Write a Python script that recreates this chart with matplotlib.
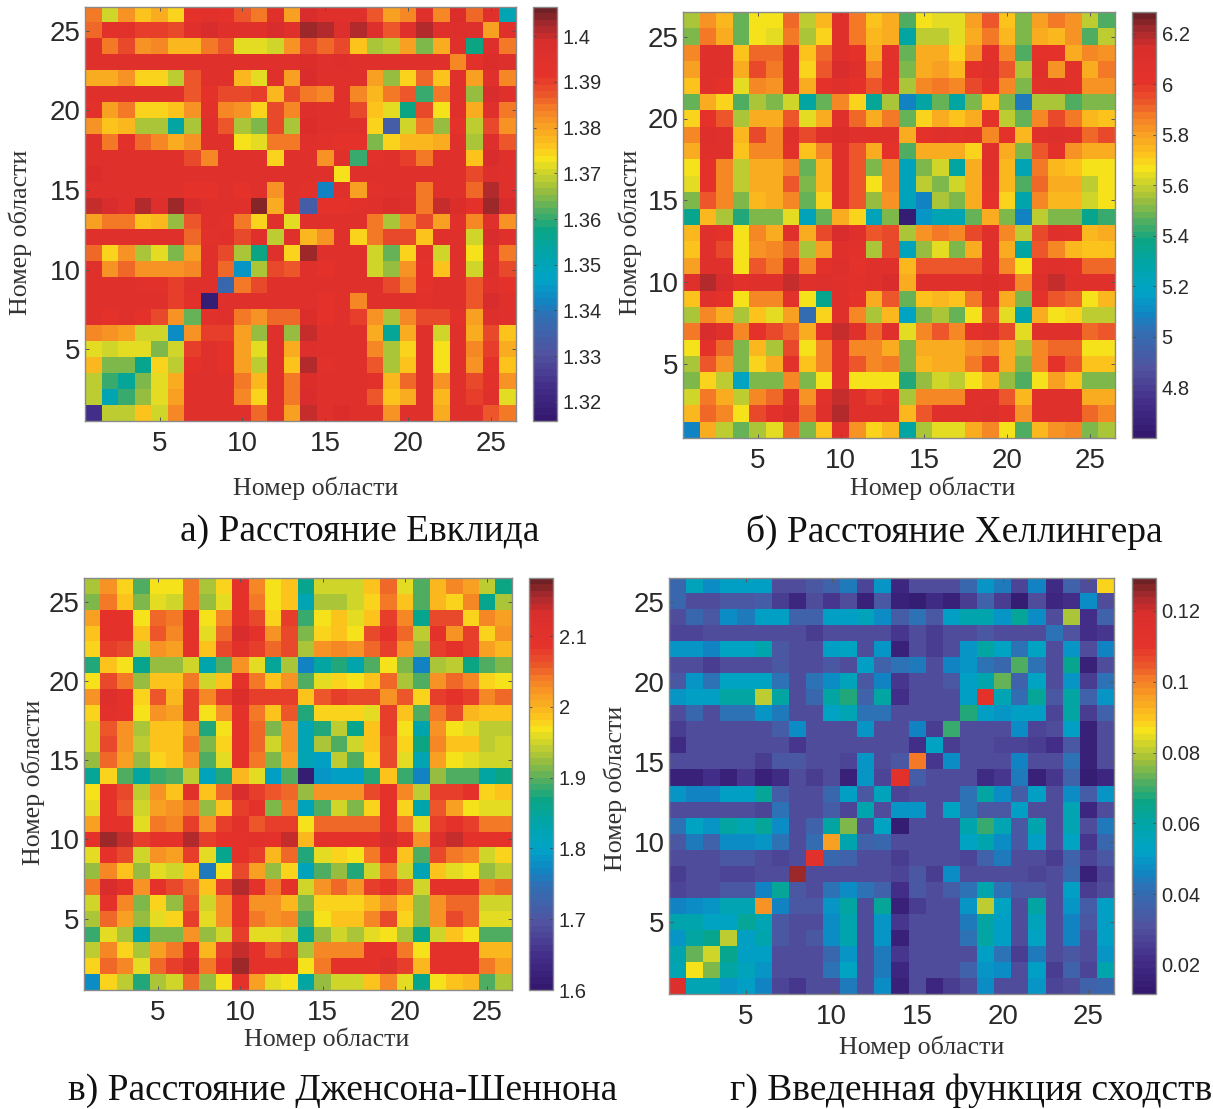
import matplotlib
matplotlib.use("Agg")
import matplotlib.pyplot as plt
import numpy as np
from matplotlib.colors import LinearSegmentedColormap

# Rows run from region 26 (top) down to region 1, columns from 1 to 26.
# Euclid: thousandths above 1.3
euclid_rows = [
    [85,71,81,76,79,75,92,93,91,87,84,94,80,98,94,94,94,87,80,83,94,83,97,86,94,50],
    [86,93,93,90,90,88,95,99,94,94,94,98,94,103,102,96,101,96,87,94,102,94,96,96,80,94],
    [94,85,89,81,83,77,78,85,87,72,72,71,82,89,86,89,76,68,69,80,65,79,94,57,96,85],
    [95,95,95,95,95,94,94,94,94,94,94,94,94,97,94,96,95,94,94,94,94,94,83,93,97,96],
    [79,79,81,75,75,69,87,94,94,77,72,94,80,99,94,94,94,80,66,75,86,76,94,80,94,83],
    [94,94,94,94,94,94,87,91,88,88,90,77,89,84,83,94,83,77,84,87,60,85,94,66,99,94],
    [93,80,85,75,74,76,82,93,83,82,74,88,83,96,94,94,89,76,72,58,88,73,94,79,95,84],
    [81,76,77,68,68,54,67,94,87,67,65,88,68,97,94,94,94,74,33,71,84,66,92,69,89,82],
    [94,85,93,86,83,79,81,94,94,73,72,84,84,94,93,92,92,64,74,78,78,79,94,68,96,87],
    [94,94,94,94,94,94,88,83,94,94,94,74,94,94,82,94,60,93,94,90,84,94,94,76,99,94],
    [97,94,94,94,94,94,94,94,94,94,94,94,94,94,95,73,94,94,94,94,94,94,95,88,96,94],
    [94,94,94,94,94,94,92,92,94,92,94,81,94,93,42,95,80,93,94,94,84,94,94,86,101,94],
    [100,98,95,102,96,103,99,94,94,94,104,79,94,33,92,92,93,94,97,96,85,100,97,91,103,98],
    [80,84,84,76,78,66,87,94,93,85,74,94,72,94,94,94,94,84,67,83,88,80,94,83,94,81],
    [94,94,94,94,94,94,86,93,95,89,94,69,94,78,81,94,75,84,89,89,76,94,94,71,98,94],
    [86,75,81,68,72,65,80,94,89,67,58,94,75,103,94,94,94,71,63,75,93,71,94,73,95,85],
    [94,82,86,81,81,81,83,94,86,45,67,89,87,94,92,94,94,71,66,81,91,76,94,71,96,88],
    [94,94,94,93,93,90,94,94,36,85,89,94,94,94,94,94,94,94,89,84,92,94,94,87,94,92],
    [94,94,94,94,94,90,93,18,94,94,94,94,94,94,92,94,83,94,94,94,93,94,94,87,98,94],
    [94,92,94,91,89,82,63,93,94,84,81,86,86,97,92,94,90,82,67,83,88,88,93,80,96,94],
    [83,81,80,70,71,44,82,90,90,80,66,94,66,100,94,94,94,79,55,79,94,70,94,79,89,76],
    [72,71,72,72,65,70,90,94,92,80,72,94,79,96,94,94,94,83,68,74,94,73,94,83,90,79],
    [77,65,64,56,75,69,92,94,91,80,69,94,76,101,93,94,94,87,67,76,94,73,94,81,92,76],
    [69,60,55,64,72,79,94,94,94,85,78,94,84,97,94,94,94,93,78,86,94,82,94,88,93,81],
    [69,51,60,66,72,80,94,94,94,83,74,94,84,98,94,94,94,87,76,79,94,78,94,90,94,72],
    [24,69,69,76,71,83,94,94,94,94,86,94,80,100,94,97,94,94,82,94,94,79,95,95,87,85],
]
# Hellinger: hundredths
hellinger_rows = [
    [555,582,575,548,568,568,590,558,575,605,588,572,578,545,568,565,563,580,592,572,550,580,588,582,558,545],
    [550,587,577,548,568,565,588,556,570,605,587,574,578,530,560,558,564,578,588,575,550,578,575,583,545,558],
    [585,606,606,572,590,590,605,572,590,606,600,577,604,548,578,578,570,582,603,586,545,600,600,577,585,582],
    [580,606,606,578,596,587,606,570,592,615,605,585,604,550,578,580,575,600,605,592,555,605,582,604,578,588],
    [573,606,600,565,585,582,606,578,600,607,602,592,600,555,584,588,585,595,602,584,552,603,606,604,582,582],
    [548,578,570,545,555,552,562,530,548,585,570,532,555,510,530,548,530,550,572,550,505,556,556,545,550,550],
    [570,602,592,555,576,578,592,565,578,605,590,578,587,548,570,576,572,578,600,560,548,586,596,588,575,572],
    [585,610,607,574,597,584,605,595,605,612,606,606,606,578,600,606,604,605,585,600,574,606,608,606,590,596],
    [578,607,607,572,585,585,604,572,585,606,592,578,600,545,578,578,578,570,606,578,550,594,604,582,578,578],
    [568,600,586,558,578,578,584,548,574,606,594,552,586,522,550,562,530,578,605,575,525,588,574,572,566,566],
    [565,600,586,560,578,578,592,552,575,606,594,566,586,522,558,550,562,578,604,575,545,590,578,578,560,566],
    [552,592,584,550,575,578,585,548,570,606,592,554,582,522,510,556,550,578,600,570,528,585,575,575,562,566],
    [535,575,555,540,550,550,565,522,548,578,570,522,550,465,515,525,525,548,578,550,508,560,550,550,535,542],
    [575,606,600,568,585,577,606,578,595,615,605,592,595,555,583,588,585,597,605,585,560,597,605,603,575,578],
    [572,605,595,567,582,585,590,556,580,605,603,555,595,522,553,565,552,578,606,578,530,594,584,574,572,572],
    [580,606,606,568,592,587,605,585,603,610,600,606,605,575,593,592,593,593,606,585,568,603,606,603,590,590],
    [606,620,615,604,606,606,617,605,608,606,603,606,614,578,606,606,606,606,612,606,585,610,617,606,606,606],
    [572,605,600,567,585,584,603,568,535,606,600,578,592,548,572,574,572,587,605,578,552,600,592,590,568,574],
    [555,586,578,555,572,565,580,500,570,605,584,556,574,520,550,555,548,566,595,565,528,578,568,570,558,558],
    [587,615,606,585,602,597,590,578,604,618,606,590,605,565,584,592,584,602,605,597,565,606,606,606,590,594],
    [566,602,590,552,575,555,596,566,584,606,586,586,578,552,576,578,578,582,584,578,555,584,590,590,568,566],
    [556,592,582,552,570,576,603,572,584,606,593,584,588,552,574,578,578,588,598,578,552,584,600,594,572,572],
    [550,570,560,520,552,552,584,552,568,605,568,568,566,540,553,562,558,568,574,553,545,568,580,572,550,550],
    [562,588,576,558,584,590,605,582,604,616,605,598,602,556,586,586,586,606,606,592,574,606,606,606,578,578],
    [575,590,586,568,595,604,612,590,605,620,606,606,606,574,592,606,606,606,610,604,582,606,606,606,590,584],
    [510,577,560,548,556,563,590,552,572,605,582,570,574,530,556,565,565,578,586,568,545,574,582,584,550,556],
]
# Jensen-Shannon: hundredths
jensen_rows = [
    [193,202,198,190,197,197,204,193,198,209,203,197,199,186,195,195,195,199,205,196,190,200,203,201,194,187],
    [191,204,199,191,196,195,204,192,196,209,204,197,199,182,193,193,195,198,204,199,190,200,198,203,186,193],
    [201,209,209,197,205,204,209,197,203,209,207,198,208,189,197,199,196,199,208,203,186,207,207,198,203,201],
    [199,209,209,199,206,203,209,196,205,213,209,202,207,191,198,199,197,207,209,205,194,209,202,208,198,202],
    [198,208,207,195,202,201,209,199,207,210,208,205,207,193,202,203,202,205,208,202,192,208,209,208,201,200],
    [188,199,197,186,192,192,195,183,190,202,196,185,193,177,184,188,183,190,197,191,177,193,194,187,190,191],
    [197,207,204,192,199,199,204,195,199,209,204,199,202,190,196,198,197,199,205,193,190,202,205,203,198,197],
    [202,211,209,198,206,200,208,203,208,212,208,208,208,199,206,208,207,207,202,206,198,208,209,208,203,205],
    [198,210,209,197,202,201,208,197,202,209,204,199,206,188,198,198,198,196,208,199,190,204,207,200,199,199],
    [195,206,202,193,199,199,202,188,197,209,205,191,202,182,188,194,186,199,208,197,183,202,197,196,194,194],
    [195,207,202,194,199,199,204,191,198,209,205,195,202,182,193,190,195,199,207,198,187,203,199,199,194,195],
    [192,205,201,192,198,199,202,190,196,209,204,191,201,182,180,194,190,198,207,196,182,201,197,196,195,195],
    [185,198,190,184,189,190,194,181,188,200,196,180,190,161,179,180,180,188,199,189,177,192,190,190,184,187],
    [197,209,207,194,202,199,210,199,205,213,208,206,205,192,202,202,202,207,209,203,194,208,208,209,198,199],
    [196,209,206,195,201,202,204,192,199,208,209,191,204,181,190,195,191,198,209,198,183,206,201,197,196,196],
    [201,209,209,196,204,203,208,202,208,210,206,208,208,197,205,205,205,205,209,204,196,208,209,208,204,204],
    [209,216,214,208,209,209,215,208,209,209,210,209,214,200,209,209,209,209,213,209,202,211,214,209,209,209],
    [196,209,207,195,202,201,208,196,186,209,208,200,205,188,196,198,197,204,209,199,190,207,204,203,195,198],
    [192,203,199,192,196,195,199,176,197,207,201,192,198,181,190,192,188,195,204,195,182,199,196,197,192,194],
    [204,213,209,202,209,207,205,199,208,215,209,204,209,195,202,205,202,208,209,206,195,209,209,209,204,205],
    [195,209,203,191,198,192,206,195,202,209,202,202,200,191,198,198,198,200,202,199,192,202,205,205,195,195],
    [193,205,201,192,196,198,208,196,202,209,204,202,203,190,197,199,199,203,207,198,192,202,207,205,196,196],
    [189,196,193,183,191,191,202,192,195,208,196,196,195,185,192,195,193,196,197,193,186,195,199,197,190,190],
    [194,203,198,193,201,204,209,200,208,214,209,206,208,193,203,203,203,209,209,204,197,209,209,209,200,200],
    [198,205,203,196,205,208,212,204,209,216,209,209,209,197,204,209,209,209,211,208,200,209,209,209,204,201],
    [178,198,194,188,193,195,205,192,197,209,201,196,197,184,192,195,195,199,203,196,186,197,199,200,190,193],
]
# Similarity function: thousandths
similarity_rows = [
    [38,55,48,52,52,52,30,30,33,37,44,28,49,18,30,30,30,38,49,44,28,46,20,37,30,88],
    [38,30,30,33,33,34,25,18,30,23,30,17,32,16,15,20,16,25,36,25,15,30,18,22,48,30],
    [30,38,33,47,44,52,52,37,36,52,52,55,47,34,42,32,52,58,58,50,62,48,30,78,22,36],
    [27,27,30,30,30,30,30,30,26,30,30,30,30,24,30,25,30,30,32,30,30,30,42,31,22,24],
    [50,50,46,53,53,59,33,30,30,52,54,30,50,17,30,26,30,50,60,53,42,53,30,50,30,46],
    [29,30,26,29,29,30,33,30,30,33,30,52,36,42,44,30,46,50,42,38,72,42,30,64,16,30],
    [32,50,42,53,53,53,42,30,42,48,55,32,45,23,30,30,32,52,58,73,37,54,30,50,26,42],
    [49,52,52,60,60,80,60,30,38,60,68,36,60,21,30,30,30,52,110,57,41,62,32,60,36,49],
    [30,38,30,42,43,49,44,30,30,54,56,42,42,30,30,30,30,68,52,50,52,52,28,60,25,37],
    [26,30,30,30,30,30,34,48,30,30,30,50,30,30,46,25,70,30,30,30,48,27,30,52,17,30],
    [20,30,30,30,30,30,30,24,30,30,30,30,30,30,22,54,26,30,30,28,28,25,22,33,17,30],
    [30,30,30,30,30,25,33,33,30,30,28,50,30,33,100,24,48,30,30,30,46,30,30,42,16,30],
    [16,17,22,16,23,16,20,30,25,30,16,50,28,112,34,30,30,30,20,24,44,17,23,36,15,18],
    [50,45,45,51,51,62,34,30,30,38,52,33,55,27,30,30,30,42,60,47,35,52,30,48,34,50],
    [30,30,30,30,29,28,42,30,30,35,28,58,30,50,50,30,54,42,33,33,52,30,30,57,19,30],
    [42,54,50,60,56,62,48,30,36,60,76,30,54,15,30,30,30,58,70,56,33,58,30,56,30,44],
    [33,44,37,47,47,50,42,30,40,95,58,37,38,30,30,30,30,54,58,47,32,52,30,54,24,38],
    [30,30,30,32,32,30,28,30,112,38,36,30,30,26,30,30,30,28,37,44,30,30,25,37,28,32],
    [26,30,30,27,27,30,30,124,30,30,30,30,30,28,33,25,48,30,30,30,30,28,30,38,16,28],
    [28,30,30,33,33,45,62,33,30,42,48,42,36,22,33,30,34,42,58,42,33,33,30,52,26,30],
    [45,48,50,56,56,98,46,33,33,50,60,29,62,16,26,30,30,50,80,54,30,60,30,50,34,52],
    [58,58,53,53,62,57,33,30,30,47,58,30,50,23,30,30,30,44,60,52,30,55,30,46,33,52],
    [50,60,64,80,52,58,33,30,33,47,58,29,50,16,30,30,30,42,60,52,30,54,30,46,30,52],
    [58,74,82,64,52,52,30,30,30,38,50,30,44,24,30,30,30,30,52,42,26,44,30,33,30,50],
    [57,87,75,60,55,50,30,30,30,43,53,30,44,18,30,30,30,37,50,48,30,52,25,36,28,58],
    [116,56,56,50,52,46,27,24,30,30,44,30,48,17,30,18,25,30,47,30,30,50,28,30,37,38],
]

region_ticks = [5, 10, 15, 20, 25]
euclid_ticks = [1.32, 1.33, 1.34, 1.35, 1.36, 1.37, 1.38, 1.39, 1.4]
hellinger_ticks = [4.8, 5, 5.2, 5.4, 5.6, 5.8, 6, 6.2]
jensen_ticks = [1.6, 1.7, 1.8, 1.9, 2, 2.1]
similarity_ticks = [0.02, 0.04, 0.06, 0.08, 0.1, 0.12]

W, H = 1213, 1109
SERIF = "Liberation Serif"
SANS = "Liberation Sans"
EDGE = "#8a8a8a"

CMAP = LinearSegmentedColormap.from_list("atlas", [
    (0.00, "#34196f"), (0.08, "#432f8a"), (0.155, "#52529f"), (0.25, "#3070b4"),
    (0.29, "#0f86c4"), (0.34, "#00a3c6"), (0.40, "#00a5ab"), (0.46, "#0ba585"),
    (0.51, "#52ae60"), (0.56, "#9dbf3c"), (0.60, "#cdd42c"), (0.635, "#f6e31b"),
    (0.665, "#fdc51d"), (0.71, "#f9a422"), (0.76, "#f47c27"), (0.80, "#eb502b"),
    (0.84, "#e5332b"), (0.92, "#d92e2c"), (0.96, "#aa2a2c"), (1.00, "#6e2226"),
], N=64)


def px_axes(fig, left, top, right, bottom):
    return fig.add_axes([left / W, 1 - bottom / H, (right - left) / W, (bottom - top) / H])


def fig_text(fig, x, y, text, **kw):
    fig.text(x / W, 1 - y / H, text, **kw)


def draw_panel(fig, rows, scale, offset, vmin, vmax, cticks, box, cbox, ylab, xlab, caption):
    ax = px_axes(fig, *box)
    values = offset + np.array(rows, dtype=float)[::-1] * scale
    im = ax.imshow(values, origin="lower", extent=(0.5, 26.5, 0.5, 26.5), aspect="auto",
                   cmap=CMAP, vmin=vmin, vmax=vmax, interpolation="nearest")
    ax.set_xticks(region_ticks)
    ax.set_yticks(region_ticks)
    ax.tick_params(direction="in", length=3, width=0.7, color="#555555", top=True, right=True,
                   labelsize=20, labelcolor="#2a2a2a")
    ax.tick_params(axis="x", pad=7)
    ax.tick_params(axis="y", pad=3)
    for label in ax.get_xticklabels() + ax.get_yticklabels():
        label.set_fontfamily(SANS)
    for spine in ax.spines.values():
        spine.set_color(EDGE)
        spine.set_linewidth(1)

    cax = px_axes(fig, *cbox)
    cb = fig.colorbar(im, cax=cax, ticks=cticks)
    cb.ax.set_yticklabels([f"{t:g}" for t in cticks], fontfamily=SANS, fontsize=14.5, color="#2a2a2a")
    cb.ax.tick_params(direction="in", length=2.5, width=0.6, color="#444444", left=True, right=True, pad=4)
    cb.outline.set_edgecolor(EDGE)
    cb.outline.set_linewidth(1)

    fig_text(fig, *ylab, "Номер области", rotation=90, ha="center", va="center",
             family=SERIF, fontsize=18.7, color="#333333")
    fig_text(fig, *xlab, "Номер области", ha="center", va="center",
             family=SERIF, fontsize=18.7, color="#333333")
    fig_text(fig, *caption[:2], caption[2], ha="left", va="center",
             family=SERIF, fontsize=27, color="#111111")


def main():
    fig = plt.figure(figsize=(W / 100, H / 100), dpi=100)
    draw_panel(fig, euclid_rows, 0.001, 1.3, 1.3158, 1.4064, euclid_ticks,
               (85, 7, 516, 421), (533, 7, 557, 421), (20, 232), (316, 488),
               (180, 532, "а) Расстояние Евклида"))
    draw_panel(fig, hellinger_rows, 0.01, 0.0, 4.60, 6.287, hellinger_ticks,
               (683, 12, 1115, 438), (1132, 12, 1156, 438), (630, 232), (933, 488),
               (746, 532, "б) Расстояние Хеллингера"))
    draw_panel(fig, jensen_rows, 0.01, 0.0, 1.6, 2.182, jensen_ticks,
               (84, 578, 512, 990), (529, 578, 553, 990), (33, 782), (327, 1039),
               (68, 1091, "в) Расстояние Дженсона-Шеннона"))
    draw_panel(fig, similarity_rows, 0.001, 0.0, 0.0118, 0.1293, similarity_ticks,
               (669, 578, 1114, 994), (1132, 578, 1156, 994), (615, 788), (922, 1047),
               (730, 1091, "г) Введенная функция сходств"))
    fig.savefig("out.png", dpi=100)


if __name__ == "__main__":
    main()
